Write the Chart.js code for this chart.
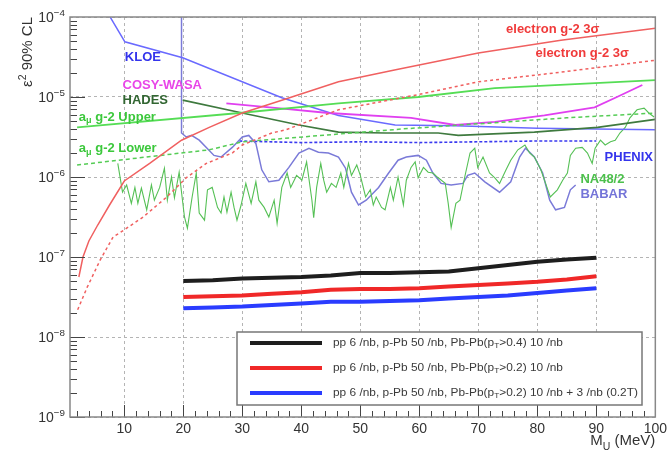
<!DOCTYPE html>
<html>
<head>
<meta charset="utf-8">
<script src="https://cdn.jsdelivr.net/npm/chart.js@4.4.0/dist/chart.umd.min.js"></script>
<style>
    body { margin: 0; background: #fff; }
</style>
</head>
<body>
<canvas id="limit_chart" width="671" height="452"></canvas>
<script>
// masses in MeV, limits stored as log10(eps^2)
let xTicks = [10, 20, 30, 40, 50, 60, 70, 80, 90, 100];
let yTicks = [-9, -8, -7, -6, -5, -4];

let kloeMass = [7.2, 10.1, 19.9, 36.7, 46.3, 55.9, 66.1, 80.0, 100];
let kloeLog = [-3.95, -4.31, -4.51, -5.01, -5.23, -5.35, -5.36, -5.39, -5.41];

let babarMass = [19.7, 19.7, 20.5, 21.4, 22.7, 25.2, 26.4, 28.3, 30.0, 31.1,
    32.3, 33.3, 34.5, 36.2, 37.9, 39.6, 41.3, 42.9, 44.6, 46.3,
    47.5, 48.5, 49.7, 51.0, 53.1, 54.8, 56.4, 57.8, 59.8, 61.2,
    62.3, 63.7, 65.4, 67.4, 68.2, 69.4, 71.1, 73.6, 75.5, 77.0,
    78.0, 79.5, 80.9, 82.1, 83.1, 84.6, 85.6, 86.5];
let babarLog = [-3.8, -5.45, -5.50, -5.48, -5.54, -5.73, -5.75, -5.63, -5.50, -5.48,
    -5.58, -5.91, -6.06, -6.04, -5.88, -5.70, -5.64, -5.69, -5.70, -5.75,
    -5.89, -6.19, -6.35, -6.29, -6.13, -5.95, -5.79, -5.75, -5.73, -5.79,
    -5.95, -6.08, -6.10, -6.08, -5.98, -5.95, -6.06, -6.19, -6.06, -5.75,
    -5.64, -5.75, -5.95, -6.29, -6.41, -6.38, -6.16, -6.10];

let na48Mass = [8.9, 9.7, 10.4, 11.2, 11.8, 12.3, 12.9, 13.8, 14.6, 15.1,
    16.0, 16.8, 17.3, 18.0, 18.5, 19.3, 20.2, 20.7, 21.5, 22.2,
    22.7, 23.6, 24.1, 24.9, 25.8, 26.4, 26.9, 27.4, 28.1, 28.6,
    29.1, 29.8, 30.6, 31.5, 32.3, 32.8, 33.7, 34.5, 35.4, 35.9,
    36.7, 37.6, 38.2, 39.2, 40.1, 40.9, 41.8, 42.1, 42.6, 43.3,
    43.8, 44.3, 45.1, 45.9, 46.7, 47.2, 48.0, 48.5, 49.4, 50.0,
    50.9, 51.7, 52.2, 52.7, 53.6, 54.2, 55.1, 55.6, 56.4, 57.3,
    57.8, 58.6, 59.3, 59.8, 60.7, 61.5, 62.3, 63.2, 64.4, 64.9,
    65.4, 66.2, 66.9, 67.7, 68.6, 69.4, 69.9, 70.8, 71.9, 72.8,
    73.6, 74.7, 75.5, 76.7, 77.9, 78.7, 79.5, 80.6, 81.4, 82.2,
    83.4, 84.3, 85.1, 85.6, 86.5, 87.6, 88.5, 89.3, 89.8, 90.7,
    91.5, 92.4, 93.2, 94.0, 94.9, 95.7, 96.9, 98.1, 98.9, 99.8];
let na48Log = [-5.83, -6.19, -6.10, -6.33, -6.13, -6.33, -6.14, -6.41, -6.10, -6.29,
    -6.13, -5.89, -6.29, -6.00, -6.26, -5.94, -6.50, -6.64, -6.25, -5.95,
    -6.45, -6.54, -6.16, -6.13, -6.38, -6.45, -6.25, -6.44, -6.19, -6.38,
    -6.54, -6.35, -6.08, -6.33, -6.06, -6.29, -6.38, -6.50, -6.29, -6.58,
    -6.13, -5.95, -6.13, -5.98, -6.04, -5.81, -6.29, -6.51, -6.13, -5.83,
    -6.04, -6.19, -6.08, -6.13, -5.95, -6.13, -5.83, -5.98, -5.85, -5.98,
    -6.25, -6.16, -6.35, -6.25, -6.38, -6.41, -6.13, -6.29, -6.00, -6.35,
    -6.04, -5.88, -5.81, -6.01, -5.88, -5.94, -5.95, -6.01, -6.08, -6.33,
    -6.63, -6.33, -6.29, -6.00, -5.70, -5.64, -5.88, -5.75, -5.95, -6.01,
    -6.08, -5.91, -5.79, -5.66, -5.60, -5.70, -5.75, -5.91, -6.08, -6.25,
    -6.16, -6.04, -5.95, -5.73, -5.64, -5.63, -5.70, -5.83, -5.64, -5.54,
    -5.60, -5.56, -5.54, -5.45, -5.38, -5.26, -5.16, -5.14, -5.20, -5.25];

let cosyMass = [27.3, 36.0, 44.6, 58.6, 66.1, 72.8, 81.2, 89.7, 93.5, 97.8];
let cosyLog = [-5.08, -5.14, -5.20, -5.26, -5.35, -5.31, -5.23, -5.13, -5.00, -4.85];

let hadesMass = [19.9, 30.0, 39.6, 46.3, 54.2, 63.2, 66.6, 79.5, 90.2, 100];
let hadesLog = [-5.04, -5.20, -5.35, -5.44, -5.45, -5.45, -5.48, -5.44, -5.38, -5.28];

let g2UpMass = [2.0, 29.5, 46.3, 59.8, 72.8, 100];
let g2UpLog = [-5.38, -5.20, -5.08, -5.00, -4.89, -4.79];
let g2LowMass = [2.0, 24.4, 30.0, 57.0, 85.0, 100];
let g2LowLog = [-5.85, -5.66, -5.56, -5.40, -5.26, -5.20];

let eg2Mass = [2.3, 3.0, 4.0, 5.5, 7.5, 10.0, 14.3, 19.7, 24.4, 30.0, 36.7, 46.3, 56.0, 70.0, 84.0, 100];
let eg2Log = [-7.25, -7.00, -6.80, -6.60, -6.35, -6.05, -5.83, -5.54, -5.38, -5.20, -5.04, -4.81, -4.66, -4.45, -4.29, -4.14];
let eg2bMass = [2.1, 3.7, 5.9, 8.1, 9.2, 13.2, 17.2, 20.5, 23.9, 28.3, 30.0, 35.0, 37.4, 46.3, 59.8, 70.0, 84.0, 100];
let eg2bLog = [-7.66, -7.38, -7.04, -6.75, -6.70, -6.50, -6.25, -6.01, -5.83, -5.70, -5.60, -5.45, -5.41, -5.16, -4.97, -4.81, -4.69, -4.54];

let phenixMass = [29.5, 40, 50, 60, 70, 80, 90];
let phenixLog = [-5.55, -5.57, -5.56, -5.57, -5.56, -5.55, -5.55];

let projMass = [20, 25, 30, 35, 40, 45, 50, 55, 60, 65, 70, 75, 80, 85, 90];
let proj04Log = [-7.30, -7.29, -7.27, -7.26, -7.25, -7.23, -7.20, -7.20, -7.19, -7.18, -7.14, -7.10, -7.06, -7.03, -7.01];
let proj02Log = [-7.50, -7.49, -7.48, -7.46, -7.44, -7.41, -7.40, -7.40, -7.39, -7.37, -7.35, -7.33, -7.31, -7.28, -7.24];
let proj02bLog = [-7.64, -7.63, -7.62, -7.60, -7.58, -7.56, -7.56, -7.55, -7.54, -7.52, -7.50, -7.48, -7.45, -7.42, -7.39];

let projLabels = [
    [['pp 6 /nb, p-Pb 50 /nb, Pb-Pb(p'], ['T', 'sub'], ['>0.4) 10 /nb']],
    [['pp 6 /nb, p-Pb 50 /nb, Pb-Pb(p'], ['T', 'sub'], ['>0.2) 10 /nb']],
    [['pp 6 /nb, p-Pb 50 /nb, Pb-Pb(p'], ['T', 'sub'], ['>0.2) 10 /nb + 3 /nb (0.2T)']]
];

const FONT = '"Liberation Sans", Arial, sans-serif';

function points(mass, logs) {
    return mass.map((m, i) => ({ x: m, y: Math.pow(10, logs[i]) }));
}

function curve(mass, logs, color, width, dash) {
    return {
        data: points(mass, logs),
        borderColor: color,
        borderWidth: width,
        borderDash: dash || [],
        pointRadius: 0,
        fill: false,
        tension: 0
    };
}

// rich text: parts = [text, 'sup'|'sub'|undefined]
function richWidth(ctx, parts, size, weight) {
    let w = 0;
    parts.forEach(p => {
        ctx.font = (weight || '') + ' ' + (p[1] ? size * 0.7 : size) + 'px ' + FONT;
        w += ctx.measureText(p[0]).width;
    });
    return w;
}
function drawRich(ctx, parts, x, y, size, weight, stretch) {
    stretch = stretch || 1;
    ctx.save();
    ctx.translate(x, y);
    ctx.scale(stretch, 1);
    let cx = 0;
    parts.forEach(p => {
        let dy = p[1] == 'sup' ? -size * 0.4 : (p[1] == 'sub' ? size * 0.3 : 0);
        ctx.font = (weight || '') + ' ' + (p[1] ? size * 0.7 : size) + 'px ' + FONT;
        ctx.fillText(p[0], cx, dy);
        cx += ctx.measureText(p[0]).width;
    });
    ctx.restore();
}

let curveLabels = [
    { parts: [['KLOE']], m: 10.1, e: -4.51, color: '#3434ec' },
    { parts: [['COSY-WASA']], m: 9.7, e: -4.85, color: '#e846e8' },
    { parts: [['HADES']], m: 9.7, e: -5.04, color: '#326632' },
    { parts: [['a'], ['\u03bc', 'sub'], [' g-2 Upper']], m: 2.3, e: -5.25, color: '#3cc83c' },
    { parts: [['a'], ['\u03bc', 'sub'], [' g-2 Lower']], m: 2.3, e: -5.64, color: '#3cc83c' },
    { parts: [['electron g-2 3\u03c3']], m: 74.7, e: -4.16, color: '#f03a3a' },
    { parts: [['electron g-2 3\u03c3']], m: 79.7, e: -4.45, color: '#f03a3a' },
    { parts: [['PHENIX']], m: 91.4, e: -5.76, color: '#3434ec' },
    { parts: [['NA48/2']], m: 87.3, e: -6.03, color: '#4cc04c' },
    { parts: [['BABAR']], m: 87.3, e: -6.22, color: '#7474d8' }
];

//- Frame, inner ticks, axis labels, curve labels and legend -
//-------------
const decorPlugin = {
    id: 'decor',
    afterDraw(chart) {
        let ctx = chart.ctx;
        let a = chart.chartArea;
        let xs = chart.scales.x, ys = chart.scales.y;
        ctx.save();

        ctx.strokeStyle = '#444';
        ctx.lineWidth = 1;
        for (let n = -9; n < -4; n++) {
            for (let k = 1; k < 10; k++) {
                let py = Math.round(ys.getPixelForValue(k * Math.pow(10, n))) + 0.5;
                ctx.beginPath();
                ctx.moveTo(a.left, py);
                ctx.lineTo(a.left + (k == 1 ? 15 : 7), py);
                ctx.stroke();
            }
        }
        for (let m = 2; m < 100; m += 2) {
            let px = Math.round(xs.getPixelForValue(m)) + 0.5;
            ctx.beginPath();
            ctx.moveTo(px, a.bottom);
            ctx.lineTo(px, a.bottom - (m % 10 == 0 ? 12 : 6));
            ctx.stroke();
        }

        ctx.strokeStyle = '#888';
        ctx.lineWidth = 1.5;
        ctx.strokeRect(a.left, a.top, a.right - a.left, a.bottom - a.top);

        // y tick labels 10^n
        ctx.fillStyle = '#333';
        ctx.textBaseline = 'alphabetic';
        ctx.textAlign = 'left';
        yTicks.forEach(n => {
            let py = ys.getPixelForValue(Math.pow(10, n));
            let parts = [['10'], ['\u2212' + (-n), 'sup']];
            let w = richWidth(ctx, parts, 14);
            drawRich(ctx, parts, a.left - 5 - w, py + 5, 14);
        });

        // axis titles
        let yTitle = [['\u03b5'], ['2', 'sup'], [' 90% CL']];
        let tw = richWidth(ctx, yTitle, 15);
        ctx.save();
        ctx.translate(32, a.top + tw);
        ctx.rotate(-Math.PI / 2);
        drawRich(ctx, yTitle, 0, 0, 15);
        ctx.restore();
        let xTitle = [['M'], ['U', 'sub'], [' (MeV)']];
        drawRich(ctx, xTitle, a.right - richWidth(ctx, xTitle, 15), 445, 15);

        // curve labels
        ctx.textBaseline = 'middle';
        curveLabels.forEach(l => {
            ctx.fillStyle = l.color;
            drawRich(ctx, l.parts, xs.getPixelForValue(l.m), ys.getPixelForValue(Math.pow(10, l.e)), 13, 'bold');
        });

        // legend box
        let box = { left: 237, top: 332, right: 642, bottom: 405 };
        ctx.fillStyle = '#fff';
        ctx.fillRect(box.left, box.top, box.right - box.left, box.bottom - box.top);
        ctx.strokeStyle = '#777';
        ctx.lineWidth = 1.5;
        ctx.strokeRect(box.left, box.top, box.right - box.left, box.bottom - box.top);
        let entries = chart.data.datasets.filter(d => d.legendIndex !== undefined);
        entries.forEach(d => {
            let cy = box.top + 11 + d.legendIndex * 25;
            ctx.strokeStyle = d.borderColor;
            ctx.lineWidth = 4;
            ctx.beginPath();
            ctx.moveTo(250, cy);
            ctx.lineTo(322, cy);
            ctx.stroke();
            ctx.fillStyle = '#3a3a3a';
            drawRich(ctx, projLabels[d.legendIndex], 333, cy, 11, '', 1.08);
        });
        ctx.restore();
    }
};

let projBlack = curve(projMass, proj04Log, '#1e1e1e', 4);
projBlack.legendIndex = 0;
let projRed = curve(projMass, proj02Log, '#f02828', 4);
projRed.legendIndex = 1;
let projBlue = curve(projMass, proj02bLog, '#2a3cff', 4);
projBlue.legendIndex = 2;

let limitData = {
    datasets: [
        curve(eg2Mass, eg2Log, '#f06060', 1.5),
        curve(eg2bMass, eg2bLog, '#f06060', 1.5, [3, 3]),
        curve(g2UpMass, g2UpLog, '#55dd55', 1.8),
        curve(g2LowMass, g2LowLog, '#55cc55', 1.5, [4, 3]),
        curve(hadesMass, hadesLog, '#3f7a3f', 1.7),
        curve(cosyMass, cosyLog, '#e040f0', 1.8),
        curve(kloeMass, kloeLog, '#6a6aff', 1.5),
        curve(na48Mass, na48Log, '#55c055', 1.1),
        curve(babarMass, babarLog, '#7a7ad8', 1.5),
        curve(phenixMass, phenixLog, '#3a3af0', 1.6, [3, 2]),
        projBlack,
        projRed,
        projBlue
    ]
};

let limitOptions = {
    responsive: false,
    animation: false,
    events: [],
    layout: { padding: { top: 17, right: 13, left: 0, bottom: 0 } },
    plugins: { legend: { display: false }, tooltip: { enabled: false } },
    scales: {
        x: {
            type: 'linear',
            min: 0.8,
            max: 100,
            afterBuildTicks: s => { s.ticks = xTicks.map(v => ({ value: v })); },
            afterFit: s => { s.height = 35; },
            grid: { color: '#b4b4b4', lineWidth: 1, drawTicks: false },
            border: { display: false, dash: [3, 3] },
            ticks: { color: '#333', padding: 4, maxRotation: 0, font: { size: 14, family: FONT } }
        },
        y: {
            type: 'logarithmic',
            min: 1e-9,
            max: 1e-4,
            afterBuildTicks: s => { s.ticks = yTicks.map(n => ({ value: Math.pow(10, n) })); },
            afterFit: s => { s.width = 70; },
            grid: { color: '#b4b4b4', lineWidth: 1, drawTicks: false },
            border: { display: false, dash: [3, 3] },
            ticks: { display: false }
        }
    }
};

let limitCanvas = document.getElementById('limit_chart').getContext('2d');
new Chart(limitCanvas, {
    type: 'line',
    data: limitData,
    options: limitOptions,
    plugins: [decorPlugin]
});
</script>
</body>
</html>
